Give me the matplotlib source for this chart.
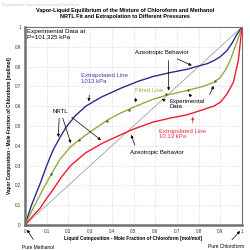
import matplotlib
matplotlib.use("Agg")
import matplotlib.pyplot as plt

plt.rcParams['font.family'] = ['Liberation Sans', 'DejaVu Sans']

# 1013 kPa extrapolation
x_hi = [0, 0.03, 0.07, 0.10, 0.13, 0.16, 0.19, 0.23, 0.28, 0.35, 0.44, 0.52, 0.59, 0.67, 0.745, 0.79, 0.84, 0.87, 0.90, 0.93, 0.955, 0.975, 1]
y_hi = [0, 0.10, 0.21, 0.30, 0.38, 0.44, 0.495, 0.55, 0.60, 0.645, 0.69, 0.725, 0.75, 0.77, 0.786, 0.80, 0.815, 0.83, 0.85, 0.88, 0.92, 0.96, 1]
# 101.325 kPa NRTL fit
x_fit = [0, 0.04, 0.08, 0.12, 0.16, 0.21, 0.25, 0.30, 0.38, 0.44, 0.50, 0.59, 0.65, 0.75, 0.82, 0.87, 0.9, 0.925, 0.945, 0.965, 0.985, 1]
y_fit = [0, 0.09, 0.175, 0.255, 0.33, 0.395, 0.43, 0.47, 0.53, 0.565, 0.595, 0.635, 0.655, 0.68, 0.70, 0.72, 0.745, 0.785, 0.83, 0.89, 0.95, 1]
# 10.13 kPa extrapolation
x_lo = [0, 0.04, 0.07, 0.10, 0.13, 0.17, 0.21, 0.28, 0.36, 0.44, 0.49, 0.59, 0.67, 0.745, 0.80, 0.84, 0.87, 0.9, 0.93, 0.96, 0.983, 1]
y_lo = [0, 0.05, 0.085, 0.135, 0.18, 0.245, 0.30, 0.365, 0.415, 0.455, 0.48, 0.52, 0.54, 0.556, 0.575, 0.59, 0.60, 0.62, 0.66, 0.72, 0.83, 1]
# experimental data
x_exp = [0, 0.12, 0.25, 0.38, 0.48, 0.65, 0.75, 0.875, 1]
y_exp = [0, 0.26, 0.43, 0.525, 0.58, 0.66, 0.68, 0.725, 1]

ticks = [0, 0.1, 0.2, 0.3, 0.4, 0.5, 0.6, 0.7, 0.8, 0.9, 1]
tick_labels = ['0', '0.1', '0.2', '0.3', '0.4', '0.5', '0.6', '0.7', '0.8', '0.9', '1']

fig = plt.figure(figsize=(2.5, 2.5), dpi=100)
ax = fig.add_axes([0.1, 0.1, 0.868, 0.792])
ax.set_xlim(0, 1)
ax.set_ylim(0, 1)

ax.plot([0, 1], [0, 1], color='#a0a0a0', lw=0.6)
ax.plot(x_hi, y_hi, color='#2b2b8a', lw=1.0)
ax.plot(x_fit, y_fit, color='#8fae3c', lw=1.0)
ax.plot(x_lo, y_lo, color='#ee1c2e', lw=1.0)
ax.plot(x_exp, y_exp, 'o', color='#4d6b1e', ms=1.8, mec='none')

ax.set_xticks(ticks)
ax.set_xticklabels(tick_labels)
ax.set_yticks(ticks)
ax.set_yticklabels(tick_labels)
ax.tick_params(labelsize=3.3, length=0, pad=3, colors='#333333')
ax.grid(True, color='#c8c8c8', linestyle=(0, (1, 1.5)), lw=0.5)
for s in ax.spines.values():
    s.set_color('#707070')
    s.set_linewidth(0.8)
ax.spines['left'].set_linewidth(1.8)
ax.spines['bottom'].set_linewidth(1.8)

ax.set_xlabel('Liquid Composition - Mole Fraction of Chloroform [mol/mol]', fontsize=3.4,
              fontweight='bold', labelpad=1.5)
ax.set_ylabel('Vapor Composition - Mole Fraction of Chloroform [mol/mol]', fontsize=3.4,
              fontweight='bold', labelpad=2)

fig.text(0.5, 0.945, 'Vapor-Liquid Equilibrium of the Mixture of Chloroform and Methanol\n'
         'NRTL Fit and Extrapolation to Different Pressures', ha='center', va='center',
         fontsize=4.0, fontweight='bold', linespacing=1.3)
fig.text(0.008, 0.988, 'Experimental Data from Dortmund Data Bank', ha='left', va='top',
         fontsize=2.8, color='#c8c8c8')

ax.text(0.01, 0.99, 'Experimental Data at\nP=101,325 kPa', ha='left', va='top',
        fontsize=4.5, linespacing=1.1)

fs = 4.3
ap = dict(arrowstyle='-|>', color='black', lw=0.5, mutation_scale=4)
ax.text(0.63, 0.87, 'Azeotropic Behavior', ha='center', va='center', fontsize=fs)
ax.annotate('', xy=(0.78, 0.80), xytext=(0.69, 0.845), arrowprops=ap)
ax.annotate('', xy=(0.662, 0.665), xytext=(0.662, 0.845), arrowprops=ap)

ax.text(0.26, 0.74, 'Extrapolated Line\n1013 kPa', ha='left', va='center', fontsize=fs,
        color='#3c3ca8', linespacing=1.05)
ax.annotate('', xy=(0.293, 0.61), xytext=(0.297, 0.67), arrowprops=ap)

ax.text(0.507, 0.678, 'Fitted Line', ha='left', va='center', fontsize=fs, color='#8fb440')
ax.annotate('', xy=(0.51, 0.605), xytext=(0.51, 0.655), arrowprops=ap)

ax.text(0.668, 0.61, 'Experimental\nData', ha='left', va='center', fontsize=fs,
        linespacing=1.05)
ax.annotate('', xy=(0.62, 0.645), xytext=(0.655, 0.62), arrowprops=ap)
ax.annotate('', xy=(0.745, 0.672), xytext=(0.77, 0.645), arrowprops=ap)
ax.annotate('', xy=(0.875, 0.715), xytext=(0.845, 0.645), arrowprops=ap)

ax.text(0.128, 0.572, 'NRTL', ha='left', va='center', fontsize=fs)
ax.annotate('', xy=(0.153, 0.43), xytext=(0.158, 0.553), arrowprops=ap)
ax.annotate('', xy=(0.215, 0.40), xytext=(0.17, 0.553), arrowprops=ap)
ax.annotate('', xy=(0.36, 0.42), xytext=(0.205, 0.553), arrowprops=ap)

ax.text(0.619, 0.46, 'Extrapolated Line\n10.13 kPa', ha='left', va='center', fontsize=fs,
        color='#ee2a3c', linespacing=1.05)
ax.annotate('', xy=(0.773, 0.56), xytext=(0.773, 0.5), arrowprops=dict(ap, color='#ee1c2e'))

ax.text(0.607, 0.367, 'Azeotropic Behavior', ha='center', va='center', fontsize=fs)
ax.annotate('', xy=(0.485, 0.468), xytext=(0.51, 0.39), arrowprops=ap)

ax.annotate('', xy=(0.003, -0.012), xytext=(0.045, -0.085), arrowprops=ap,
            annotation_clip=False)
ax.text(0.058, -0.112, 'Pure Methanol', ha='center', va='center', fontsize=3.5)
ax.annotate('', xy=(1.0, -0.02), xytext=(0.945, -0.085), arrowprops=ap,
            annotation_clip=False)
ax.text(0.925, -0.107, 'Pure Chloroform', ha='center', va='center', fontsize=3.5)

fig.savefig('out.png', dpi=100, facecolor='white')
